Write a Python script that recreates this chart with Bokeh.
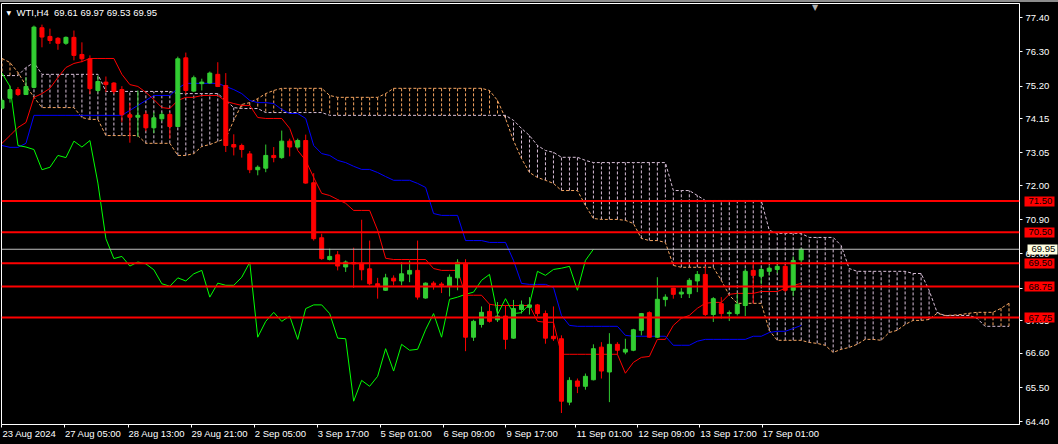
from bokeh.plotting import figure
from bokeh.models import (Range1d, FixedTicker, Span, Label, LinearAxis,
                          NumeralTickFormatter, GlobalInlineStyleSheet)
from bokeh.embed import file_html
from bokeh.resources import INLINE

# ---------------- data ----------------
opens = [74.49, 74.81, 75.09, 74.93, 75.16, 77.08, 76.80, 76.74, 76.58, 76.77,
         76.22, 76.08, 75.06, 75.33, 75.30, 75.09, 74.28, 74.20, 74.29, 73.86,
         74.15, 74.29, 73.90, 76.11, 75.04, 75.28, 75.30, 75.58, 75.22, 73.32,
         73.29, 73.02, 72.51, 72.56, 72.97, 72.90, 73.43, 73.24, 73.45, 72.09,
         70.32, 69.62, 69.77, 69.38, 69.52, 69.50, 69.32, 68.84, 68.63, 69.02,
         68.93, 69.15, 69.27, 68.38, 68.86, 68.83, 68.75, 69.03, 69.50, 67.12,
         67.53, 67.95, 67.68, 67.80, 67.09, 68.01, 68.08, 68.16, 67.88, 67.15,
         67.07, 65.03, 65.71, 65.54, 65.75, 66.80, 66.00, 66.89, 66.64, 66.70,
         67.34, 67.91, 67.12, 68.33, 68.70, 68.51, 68.52, 68.93, 69.14, 67.85,
         68.20, 67.88, 67.88, 68.14, 69.27, 69.08, 69.24, 69.30, 69.40, 68.63,
         69.61]
highs = [74.80, 75.22, 75.17, 75.49, 77.15, 77.18, 77.05, 76.78, 76.80, 76.99,
         76.61, 76.19, 75.54, 75.51, 75.33, 75.20, 74.65, 75.06, 74.39, 74.36,
         74.36, 74.36, 76.15, 76.28, 75.54, 75.44, 75.67, 75.97, 75.62, 73.65,
         73.35, 73.11, 72.65, 73.32, 73.24, 73.77, 73.51, 73.51, 73.64, 72.40,
         70.45, 69.97, 69.89, 69.59, 70.00, 70.90, 70.23, 69.03, 69.16, 69.11,
         69.54, 69.59, 70.23, 68.88, 68.92, 68.89, 69.14, 69.63, 69.63, 67.68,
         68.11, 68.18, 68.25, 68.14, 68.32, 68.30, 68.41, 68.19, 67.98, 68.11,
         67.18, 65.83, 65.79, 65.95, 66.89, 66.96, 67.25, 66.96, 67.07, 67.39,
         67.90, 67.95, 69.05, 68.50, 68.71, 68.70, 69.02, 69.25, 69.40, 68.41,
         68.41, 67.98, 68.54, 69.32, 69.54, 69.36, 69.43, 69.46, 69.46, 69.72,
         69.97]
lows = [74.45, 74.67, 74.88, 74.93, 75.13, 76.45, 76.56, 76.37, 76.53, 76.03,
        75.97, 74.95, 75.00, 75.01, 74.95, 74.04, 73.38, 73.56, 73.75, 73.69,
        74.07, 73.51, 73.88, 74.95, 75.01, 75.06, 75.28, 75.17, 73.08, 72.97,
        72.90, 72.40, 72.33, 72.43, 72.75, 72.86, 72.94, 73.19, 72.06, 70.23,
        69.61, 69.59, 69.27, 69.22, 68.71, 68.95, 68.79, 68.36, 68.61, 68.79,
        68.79, 68.89, 68.33, 68.36, 68.65, 68.54, 68.43, 68.63, 66.67, 67.00,
        67.43, 67.59, 67.61, 66.73, 67.07, 67.88, 67.85, 67.79, 66.91, 67.00,
        64.68, 64.93, 65.32, 65.43, 65.73, 65.79, 65.03, 66.57, 66.57, 66.67,
        67.18, 67.10, 67.10, 68.11, 68.36, 68.38, 68.38, 68.57, 67.80, 67.61,
        67.72, 67.64, 67.82, 67.80, 68.20, 68.82, 69.11, 69.18, 68.57, 68.44,
        69.53]
closes = [74.74, 75.09, 74.93, 75.19, 77.10, 76.78, 76.67, 76.58, 76.77, 76.19,
          76.08, 75.12, 75.35, 75.25, 75.03, 74.28, 74.20, 74.26, 73.86, 74.18,
          74.29, 73.90, 76.08, 75.06, 75.47, 75.33, 75.62, 75.19, 73.29, 73.24,
          73.16, 72.51, 72.59, 72.97, 72.90, 73.43, 73.24, 73.45, 72.08, 70.29,
          69.65, 69.72, 69.41, 69.54, 69.48, 69.29, 68.84, 68.76, 69.03, 68.93,
          69.16, 69.27, 68.41, 68.86, 68.79, 68.79, 69.05, 69.53, 67.12, 67.63,
          67.92, 67.63, 67.80, 67.05, 68.04, 68.16, 68.16, 67.88, 67.09, 67.07,
          65.06, 65.73, 65.54, 65.86, 66.75, 66.03, 66.89, 66.70, 66.73, 67.36,
          67.88, 67.12, 68.34, 68.41, 68.50, 68.57, 68.95, 69.14, 67.85, 68.36,
          67.88, 67.91, 68.18, 69.24, 69.11, 69.30, 69.34, 69.40, 68.63, 69.59,
          69.95]

tenkan = [73.36, 73.61, 73.87, 74.03, 74.84, 74.96, 75.13, 75.48, 75.80, 75.93,
          75.99, 76.09, 76.09, 76.09, 76.09, 75.58, 75.25, 75.19, 75.00, 74.77,
          74.51, 74.48, 74.74, 74.84, 74.84, 74.90, 74.90, 74.90, 74.71, 74.64,
          74.58, 74.58, 74.19, 74.16, 74.16, 74.16, 73.84, 73.13, 72.81, 72.26,
          71.75, 71.68, 71.55, 71.43, 71.20, 71.20, 71.20, 70.56, 69.66, 69.62,
          69.62, 69.62, 69.62, 69.62, 69.33, 69.27, 69.27, 69.27, 68.47, 68.47,
          68.47, 68.18, 68.14, 68.14, 68.14, 68.14, 68.14, 67.63, 67.60, 67.60,
          66.57, 66.57, 66.57, 66.57, 66.57, 66.57, 66.57, 66.57, 65.96, 66.31,
          66.47, 66.50, 67.05, 67.05, 67.50, 67.73, 67.82, 68.05, 68.21, 68.24,
          68.24, 68.50, 68.53, 68.53, 68.53, 68.59, 68.59, 68.59, 68.69, 68.79,
          68.85]
kijun = [73.29, 73.23, 73.23, 73.36, 74.26, 74.26, 74.26, 74.26, 74.26, 74.26,
         74.26, 74.26, 74.26, 74.26, 74.26, 74.26, 74.42, 74.58, 74.74, 74.90,
         74.90, 74.90, 75.13, 75.29, 75.29, 75.29, 75.29, 75.29, 75.19, 75.09,
         74.96, 74.74, 74.67, 74.67, 74.64, 74.45, 74.32, 74.32, 74.16, 73.29,
         73.03, 72.97, 72.81, 72.74, 72.62, 72.52, 72.52, 72.42, 72.29, 72.17,
         72.17, 72.17, 72.07, 71.94, 71.10, 71.04, 71.04, 71.04, 70.23, 70.23,
         70.23, 70.17, 70.17, 70.17, 69.59, 68.85, 68.82, 68.82, 68.82, 68.72,
         67.82, 67.50, 67.47, 67.47, 67.47, 67.47, 67.47, 67.47, 67.18, 67.15,
         67.15, 67.15, 67.15, 67.15, 66.86, 66.86, 66.86, 66.99, 67.05, 67.05,
         67.05, 67.05, 67.05, 67.05, 67.15, 67.15, 67.27, 67.31, 67.31, 67.40,
         67.50]
span_a = [76.09, 75.96, 75.64, 75.22, 74.84, 74.51, 74.51, 74.51, 74.51, 74.51,
          74.19, 74.13, 74.13, 73.61, 73.61, 73.61, 73.61, 73.61, 73.36, 73.36,
          73.36, 73.36, 72.97, 72.97, 73.03, 73.26, 73.32, 73.42, 73.52, 74.10,
          74.61, 74.67, 74.80, 74.96, 75.06, 75.13, 75.13, 75.13, 75.13, 75.13,
          75.13, 74.90, 74.84, 74.84, 74.84, 74.84, 74.84, 74.84, 74.96, 75.13,
          75.13, 75.13, 75.13, 75.13, 75.13, 75.13, 75.13, 75.13, 75.13, 75.13,
          75.13, 75.06, 74.74, 74.16, 73.45, 72.87, 72.42, 72.26, 72.17, 72.07,
          71.84, 71.84, 71.84, 71.36, 70.94, 70.91, 70.91, 70.91, 70.88, 70.78,
          70.30, 70.23, 70.23, 70.17, 69.43, 69.37, 69.37, 69.37, 69.37, 69.37,
          68.95, 68.47, 68.21, 68.21, 68.21, 68.21, 67.34, 67.02, 67.02, 67.02,
          67.02, 66.95, 66.92, 66.86, 66.63, 66.73, 66.79, 66.89, 67.05, 67.05,
          67.02, 67.27, 67.34, 67.53, 67.66, 67.66, 67.69, 67.89, 67.82, 67.83,
          67.85, 67.89, 67.92, 67.92, 67.92, 68.05, 68.21]
span_b = [75.54, 75.54, 75.54, 75.80, 75.96, 75.58, 75.58, 75.58, 75.58, 75.58,
          75.58, 75.58, 75.58, 75.03, 75.03, 75.03, 75.03, 75.03, 75.03, 75.03,
          75.03, 75.03, 74.96, 74.96, 74.96, 74.96, 74.96, 74.96, 74.74, 74.51,
          74.48, 74.48, 74.48, 74.35, 74.35, 74.35, 74.35, 74.35, 74.35, 74.35,
          74.35, 74.26, 74.26, 74.26, 74.26, 74.26, 74.26, 74.26, 74.26, 74.26,
          74.26, 74.26, 74.26, 74.26, 74.26, 74.26, 74.26, 74.26, 74.26, 74.26,
          74.26, 74.26, 74.26, 74.26, 74.10, 73.84, 73.61, 73.29, 73.13, 73.07,
          72.91, 72.91, 72.91, 72.81, 72.74, 72.74, 72.74, 72.74, 72.74, 72.74,
          72.74, 72.74, 72.74, 72.74, 71.84, 71.84, 71.84, 71.68, 71.52, 71.52,
          71.52, 71.52, 71.52, 71.52, 71.52, 71.52, 70.56, 70.46, 70.46, 70.46,
          70.46, 70.33, 70.33, 70.33, 70.33, 70.07, 69.33, 69.24, 69.24, 69.24,
          69.24, 69.24, 69.24, 69.24, 69.17, 69.17, 68.63, 67.92, 67.81, 67.82,
          67.82, 67.82, 67.73, 67.47, 67.47, 67.47, 67.47]

chikou_shift = 26
levels = [71.50, 70.50, 69.50, 68.75, 67.75]
last_price = 69.95
price_ticks = [77.40, 76.30, 75.20, 74.15, 73.05, 72.00, 70.90, 69.80,
               68.70, 67.65, 66.60, 65.50, 64.40]
time_ticks = [0.0, 7.81, 15.78, 23.65, 31.56, 39.44, 47.31, 55.19, 63.06,
              71.78, 79.56, 87.31, 95.1]
time_labels = ["23 Aug 2024", "27 Aug 05:00", "28 Aug 13:00", "29 Aug 21:00",
               "2 Sep 05:00", "3 Sep 17:00", "5 Sep 01:00", "6 Sep 09:00",
               "9 Sep 17:00", "11 Sep 01:00", "12 Sep 09:00", "13 Sep 17:00",
               "17 Sep 01:00"]
symbol = "WTI,H4"
header_prices = ["69.61", "69.97", "69.53", "69.95"]

# ---------------- styling ----------------
FONT = "Liberation Sans"
FS_PX = 9.5
FS = f"{FS_PX}px"
BULL = "#32cd32"
BEAR = "#ff0000"
SANDY = "#f4a460"
THISTLE = "#d8bfd8"
DASH = "3 2"

X0, X1 = -0.0625, 127.3125      # frame spans 1019 px -> 8 px per bar
Y0, Y1 = 64.31, 77.86
PX_PER_BAR = 8.0

# approximate advance widths (em) of Liberation Sans, used to left-align the time labels
ADV = {" ": 0.278, ":": 0.278, ".": 0.278, "A": 0.667, "S": 0.667,
       "u": 0.556, "g": 0.556, "e": 0.556, "p": 0.556}


def text_width(s):
    return sum(ADV.get(ch, 0.556) for ch in s) * FS_PX


p = figure(width=1058, height=442, x_range=Range1d(X0, X1), y_range=Range1d(Y0, Y1),
           output_backend="svg", toolbar_location=None,
           x_axis_location=None, y_axis_location=None,
           min_border_left=1, min_border_top=1, min_border_right=38, min_border_bottom=20)
p.background_fill_color = "black"
p.border_fill_color = "black"
p.outline_line_color = "white"
p.xgrid.visible = False
p.ygrid.visible = False
p.stylesheets = [GlobalInlineStyleSheet(
    css="html, body { margin: 0; padding: 0; background: #000; overflow: hidden; } "
        "body { border-top: 2px solid #8c8c8c; }")]

# price axis (nearest to the frame)
yax = LinearAxis(ticker=FixedTicker(ticks=price_ticks, minor_ticks=[]),
                 formatter=NumeralTickFormatter(format="0.00"),
                 axis_line_color="white", major_tick_line_color="white",
                 major_tick_in=0, major_tick_out=3, minor_tick_line_color=None,
                 major_label_text_color="white", major_label_text_font=FONT,
                 major_label_text_font_size=FS, major_label_standoff=3)
p.add_layout(yax, "right")


def box_axis(ticks, color):
    # stacked after the price axis; its thick ticks reach back over the price labels
    return LinearAxis(ticker=FixedTicker(ticks=ticks, minor_ticks=[]),
                      formatter=NumeralTickFormatter(format="0.00"),
                      axis_line_color=None, major_tick_line_color=color,
                      major_tick_line_width=10, major_tick_in=28, major_tick_out=2,
                      minor_tick_line_color=None, major_label_text_color="black",
                      major_label_text_font=FONT, major_label_text_font_size=FS,
                      major_label_standoff=-26)


p.add_layout(box_axis(levels, "#ff0000"), "right")
p.add_layout(box_axis([last_price], "#ffffe0"), "right")

# time axis: tick marks (nearest)
xax = LinearAxis(ticker=FixedTicker(ticks=time_ticks, minor_ticks=[]),
                 axis_line_color="white", major_tick_line_color="white",
                 major_tick_in=0, major_tick_out=3, minor_tick_line_color=None,
                 major_label_text_color=None, major_label_text_font_size="1px",
                 major_label_standoff=0)
p.add_layout(xax, "below")

# time axis: labels, left-aligned at their ticks (MetaTrader style)
label_pos = [t + (text_width(s) / 2 + 0.5) / PX_PER_BAR for t, s in zip(time_ticks, time_labels)]
xlab = LinearAxis(ticker=FixedTicker(ticks=label_pos, minor_ticks=[]),
                  major_label_overrides={pos: s for pos, s in zip(label_pos, time_labels)},
                  axis_line_color=None, major_tick_line_color=None,
                  major_tick_in=0, major_tick_out=0, minor_tick_line_color=None,
                  major_label_text_color="white", major_label_text_font=FONT,
                  major_label_text_font_size=FS, major_label_standoff=0)
p.add_layout(xlab, "below")

# ---------------- Ichimoku cloud ----------------
cx = list(range(len(span_a)))
hatch_col = [SANDY if a > b else THISTLE for a, b in zip(span_a, span_b)]
p.segment(x0=cx, y0=span_a, x1=cx, y1=span_b, line_color=hatch_col,
          line_width=1, line_dash=DASH)
p.line(cx, span_a, line_color=SANDY, line_width=1, line_dash=DASH)
p.line(cx, span_b, line_color=THISTLE, line_width=1, line_dash=DASH)

bars = list(range(len(opens)))
p.line(bars, tenkan, line_color="#ff0000", line_width=1)
p.line(bars, kijun, line_color="#0000ff", line_width=1)
chikou = closes[chikou_shift:]
p.line(bars[:len(chikou)], chikou, line_color="#00ff00", line_width=1)

# ---------------- candles ----------------
cols = [BULL if c >= o else BEAR for o, c in zip(opens, closes)]
p.segment(x0=bars, y0=highs, x1=bars, y1=lows, line_color=cols, line_width=1)
p.vbar(x=bars, width=0.5, top=[max(o, c) for o, c in zip(opens, closes)],
       bottom=[min(o, c) for o, c in zip(opens, closes)],
       fill_color=cols, line_color=cols, line_width=1)

# ---------------- horizontal levels ----------------
p.add_layout(Span(location=last_price, dimension="width", line_color="#c0c0c0", line_width=1))
for lv in levels:
    p.add_layout(Span(location=lv, dimension="width", line_color="#ff0000", line_width=2))

# ---------------- header ----------------
header = symbol + "\u00a0 " + " ".join(header_prices)
p.add_layout(Label(x=X0, y=Y1, x_offset=5, y_offset=-9, text="\u25bc", text_font="DejaVu Sans",
                   text_font_size="6px", text_color="white", text_align="left",
                   text_baseline="middle"))
p.add_layout(Label(x=X0, y=Y1, x_offset=15, y_offset=-9, text=header, text_font=FONT,
                   text_font_size=FS, text_color="white", text_align="left",
                   text_baseline="middle"))
p.add_layout(Label(x=101.75, y=Y1, y_offset=1, text="\u25bc", text_font="DejaVu Sans",
                   text_font_size="8px", text_color="#b0b0b0", text_align="center",
                   text_baseline="top"))

open("out.html", "w").write(file_html(p, INLINE))
